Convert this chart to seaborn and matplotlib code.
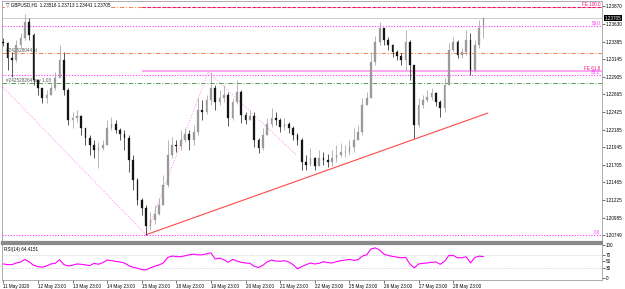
import numpy as np
import pandas as pd
import matplotlib
matplotlib.use("Agg")
import matplotlib.pyplot as plt
import matplotlib.transforms as mtrans
import seaborn as sns

sns.set_theme(style="white")
plt.rcParams['font.family'] = ['Liberation Sans', 'DejaVu Sans']

# ---------------- data ----------------
title_text = "\u25bd GBPUSD,H1  1.23516 1.23713 1.23441 1.23705"
first_open = 1.2338
closes = [1.2337, 1.2316, 1.2313, 1.2334, 1.2343, 1.2365, 1.2347, 1.2286, 1.2275, 1.2262,
          1.2266, 1.2275, 1.2289, 1.2313, 1.2272, 1.2232, 1.2234, 1.2237, 1.2221, 1.2207,
          1.2197, 1.2191, 1.2193, 1.2197, 1.2221, 1.2226, 1.2218, 1.2212, 1.2207, 1.2177,
          1.2150, 1.2122, 1.2111, 1.2087, 1.2095, 1.2103, 1.2116, 1.2143, 1.2184, 1.2197,
          1.2196, 1.2204, 1.2212, 1.2204, 1.2215, 1.2245, 1.2242, 1.2259, 1.2275, 1.2256,
          1.2262, 1.2266, 1.2234, 1.2256, 1.2270, 1.2238, 1.2232, 1.2237, 1.2204, 1.2193,
          1.2211, 1.2226, 1.2234, 1.2232, 1.2222, 1.2226, 1.2221, 1.2211, 1.2204, 1.2174,
          1.2170, 1.2180, 1.2169, 1.2180, 1.2177, 1.2174, 1.2180, 1.2184, 1.2188, 1.2188,
          1.2195, 1.2204, 1.2215, 1.2252, 1.2262, 1.2311, 1.2338, 1.2357, 1.2341, 1.2334,
          1.2324, 1.2319, 1.2313, 1.2338, 1.2307, 1.2225, 1.2252, 1.2259, 1.2263, 1.2268,
          1.2256, 1.2248, 1.2279, 1.2327, 1.2338, 1.2320, 1.2324, 1.2341, 1.2300, 1.2334,
          1.2357, 1.23705]
highs = [1.2343, 1.2338, 1.2324, 1.2341, 1.2350, 1.2376, 1.2371, 1.2350, 1.2286, 1.2275,
         1.2272, 1.2281, 1.2297, 1.2334, 1.2324, 1.2275, 1.2242, 1.2245, 1.2238, 1.2221,
         1.2211, 1.2204, 1.2202, 1.2204, 1.2232, 1.2236, 1.2232, 1.2221, 1.2218, 1.2211,
         1.2184, 1.2152, 1.2125, 1.2116, 1.2106, 1.2116, 1.2125, 1.2156, 1.2204, 1.2208,
         1.2204, 1.2218, 1.2221, 1.2218, 1.2225, 1.2262, 1.2259, 1.2266, 1.2297, 1.2279,
         1.2272, 1.2279, 1.2270, 1.2262, 1.2286, 1.2272, 1.2242, 1.2245, 1.2242, 1.2207,
         1.2221, 1.2234, 1.2248, 1.2242, 1.2234, 1.2234, 1.2229, 1.2223, 1.2214, 1.2207,
         1.2184, 1.2193, 1.2181, 1.2191, 1.2188, 1.2185, 1.2191, 1.2197, 1.2200, 1.2197,
         1.2204, 1.2221, 1.2225, 1.2262, 1.2270, 1.2324, 1.2346, 1.2365, 1.2357, 1.2345,
         1.2335, 1.2327, 1.2323, 1.2354, 1.2341, 1.2307, 1.2262, 1.2266, 1.2272, 1.2275,
         1.2270, 1.2259, 1.2289, 1.2337, 1.2345, 1.2341, 1.2330, 1.2354, 1.2350, 1.2341,
         1.2368, 1.23713]
lows = [1.2332, 1.2300, 1.2290, 1.2311, 1.2330, 1.2341, 1.2341, 1.2279, 1.2266, 1.2255,
        1.2255, 1.2266, 1.2272, 1.2289, 1.2266, 1.2225, 1.2221, 1.2229, 1.2211, 1.2197,
        1.2184, 1.2180, 1.2166, 1.2191, 1.2197, 1.2218, 1.2214, 1.2204, 1.2191, 1.2160,
        1.2136, 1.2116, 1.2102, 1.2075, 1.2081, 1.2090, 1.2102, 1.2116, 1.2140, 1.2180,
        1.2188, 1.2191, 1.2202, 1.2191, 1.2197, 1.2211, 1.2232, 1.2240, 1.2252, 1.2245,
        1.2252, 1.2256, 1.2223, 1.2232, 1.2254, 1.2228, 1.2226, 1.2232, 1.2195, 1.2187,
        1.2191, 1.2211, 1.2222, 1.2225, 1.2215, 1.2218, 1.2214, 1.2204, 1.2197, 1.2163,
        1.2163, 1.2169, 1.2163, 1.2169, 1.2170, 1.2167, 1.2169, 1.2174, 1.2181, 1.2181,
        1.2184, 1.2188, 1.2204, 1.2211, 1.2252, 1.2262, 1.2307, 1.2334, 1.2334, 1.2327,
        1.2317, 1.2313, 1.2307, 1.2300, 1.2286, 1.2207, 1.2222, 1.2248, 1.2256, 1.2259,
        1.2251, 1.2236, 1.2242, 1.2279, 1.2324, 1.2316, 1.2316, 1.2320, 1.2293, 1.2297,
        1.2330, 1.2344]
rsi_values = [42, 40, 40, 45, 48, 56, 48, 38, 34, 32,
              36, 42, 44, 55, 40, 36, 38, 42, 41, 39,
              37, 44, 41, 46, 54, 52, 50, 48, 45, 37,
              32, 29, 25, 24, 30, 35, 39, 45, 62, 66,
              65, 64, 67, 70, 72, 70, 70, 73, 76, 57,
              60, 55, 47, 56, 51, 47, 45, 44, 35, 31,
              38, 48, 54, 51, 50, 52, 48, 40, 27, 34,
              40, 45, 42, 44, 49, 46, 45, 49, 52, 54,
              56, 53, 55, 66, 70, 88, 91, 85, 72, 68,
              65, 63, 61, 62, 42, 30, 42, 44, 45, 47,
              48, 41, 50, 68, 68, 61, 61, 64, 45, 62,
              66, 64.4151]
rsi_label = "RSI(14) 64.4151"
date_labels = ["11 May 2020", "12 May 23:00", "13 May 23:00", "14 May 23:00", "15 May 23:00",
               "18 May 23:00", "19 May 23:00", "20 May 23:00", "21 May 23:00", "22 May 23:00",
               "25 May 23:00", "26 May 23:00", "27 May 23:00", "28 May 23:00"]
price_ticks = [1.23870, 1.23630, 1.23385, 1.23145, 1.22905, 1.22665, 1.22425,
               1.22185, 1.21945, 1.21705, 1.21465, 1.21225, 1.20985, 1.20749]
price_tick_labels = ["1.23870", "1.23630", "1.23385", "1.23145", "1.22905", "1.22665", "1.22425",
                     "1.22185", "1.21945", "1.21705", "1.21465", "1.21225", "1.20985", "1.20749"]
rsi_ticks = [100, 70, 50, 30, 0]
last_price = 1.23705
last_price_label = "1.23705"

fib_names = ["0.0", "38.2", "50.0"]
fib_prices = [1.2074, 1.22925, 1.2360]
fe_names = ["FE 61.8", "FE 100.0"]
fe_prices = [1.22983, 1.23852]
fe_start_bar = 32
tp_price = 1.23852
sl_price = 1.23225
sl_label = "#242528044 sl"
buy_price = 1.22816
buy_label = "#242528264 buy 1.03"
trend_bars = [33, 112]
trend_prices = [1.2075, 1.2241]
zig_bars = [-0.5, 33, 47.4, 67.7]
zig_prices = [1.2279, 1.2075, 1.2297, 1.2184]

# ---------------- figure ----------------
W, H = 625, 289
fig = plt.figure(figsize=(W / 100, H / 100), dpi=100)
fig.patch.set_facecolor("white")
ax = fig.add_axes([2 / W, 1 - 242 / H, 600 / W, 241 / H])
axr = fig.add_axes([2 / W, 1 - 280 / H, 600 / W, 36 / H], sharex=ax)

FS = 3.3
df = pd.DataFrame({"bar": np.arange(len(closes)), "close": closes, "high": highs, "low": lows})
df["open"] = [first_open] + closes[:-1]
up = df["close"] >= df["open"]
up_col, dn_col = "#9a9a9a", "#141414"
cols = np.where(up, up_col, dn_col)

# candles
ax.vlines(df["bar"], df["low"], df["high"], colors=cols, lw=0.5, zorder=4)
body_lo = np.minimum(df["open"], df["close"])
body_h = np.maximum(np.abs(df["close"] - df["open"]), 0.00004)
ax.bar(df["bar"], body_h, bottom=body_lo, width=0.4, color=cols, edgecolor=cols, lw=0.2, zorder=5)

XMAX = 138.4
ax.set_xlim(-0.3, XMAX)
ax.set_ylim(1.20651, 1.23938)

# horizontal levels
dashdot = (0, (5, 2, 1, 2))
ax.axhline(tp_price, color="#f5793f", ls=dashdot, lw=0.65, zorder=2)
ax.axhline(sl_price, color="#f5793f", ls=dashdot, lw=0.65, zorder=2)
ax.axhline(buy_price, color="#3f9a3f", ls=dashdot, lw=0.65, zorder=2)
ax.axhline(last_price, color="#c4c4c4", lw=0.6, zorder=2)
for p in fib_prices:
    ax.axhline(p, color="#ff33ff", ls=(0, (1, 1.5)), lw=0.8, zorder=2)
ax.hlines(fe_prices[0], fe_start_bar, XMAX, color="#ff9ef0", lw=1.3, zorder=2)
ax.hlines(fe_prices[1], fe_start_bar, XMAX, color="#f0107e", ls=(0, (3, 1.5)), lw=0.8, zorder=3)

# trend & zigzag lines
sns.lineplot(x=trend_bars, y=trend_prices, ax=ax, color="#ff4848", lw=0.8, zorder=3)
sns.lineplot(x=zig_bars, y=zig_prices, ax=ax, color="#ff66ee", lw=0.6,
             linestyle=(0, (1, 2)), zorder=3, sort=False)

# level labels
tr = mtrans.blended_transform_factory(ax.transAxes, ax.transData)
for name, p in zip(fib_names, fib_prices):
    ax.text(0.997, p, name, transform=tr, ha="right", va="bottom", fontsize=FS, color="#ff33ff")
for name, p in zip(fe_names, fe_prices):
    ax.text(0.997, p, name, transform=tr, ha="right", va="bottom", fontsize=FS, color="#f0107e")
ax.text(0.006, sl_price, sl_label, transform=tr, ha="left", va="bottom", fontsize=FS, color="#555555")
ax.text(0.006, buy_price, buy_label, transform=tr, ha="left", va="bottom", fontsize=FS, color="#555555")
ax.text(0.006, 0.995, title_text, transform=ax.transAxes, ha="left", va="top", fontsize=FS, color="black",
        bbox=dict(facecolor="white", edgecolor="none", pad=0.3))

# price axis on right
ax.yaxis.tick_right()
ax.set_yticks(price_ticks)
ax.set_yticklabels(price_tick_labels)
ax.tick_params(axis="y", which="both", right=True, left=False, labelright=True, labelleft=False,
               length=2, width=0.4, pad=1, labelsize=FS, colors="black")
ax.tick_params(axis="x", bottom=False, labelbottom=False)
ax.text(1.004, last_price, last_price_label, transform=tr, ha="left", va="center", fontsize=FS,
        color="white", bbox=dict(facecolor="black", edgecolor="none", pad=0.5))

for s in ["top", "left", "right"]:
    ax.spines[s].set_color("#a0a0a0")
    ax.spines[s].set_linewidth(0.6)
ax.spines["bottom"].set_color("#8a8a8a")
ax.spines["bottom"].set_linewidth(1.6)
ax.grid(False)

# ---------------- RSI panel ----------------
rsi_df = pd.DataFrame({"bar": np.arange(len(rsi_values)), "rsi": rsi_values})
sns.lineplot(data=rsi_df, x="bar", y="rsi", ax=axr, color="#ff00ff", lw=0.8)
axr.set_ylim(-7, 103)
for lvl in (70, 30):
    axr.axhline(lvl, color="#bdbdbd", ls=(0, (1, 1.5)), lw=0.5, zorder=1)
axr.yaxis.tick_right()
axr.set_yticks(rsi_ticks)
axr.set_yticklabels([str(t) for t in rsi_ticks])
axr.tick_params(axis="y", right=True, left=False, labelright=True, labelleft=False,
                length=2, width=0.4, pad=1, labelsize=FS, colors="black")
axr.set_xticks(np.arange(len(date_labels)) * 8)
axr.set_xticklabels(date_labels)
axr.tick_params(axis="x", bottom=True, length=2, width=0.4, pad=1.2, labelsize=FS, colors="black")
for lbl in axr.get_xticklabels():
    lbl.set_horizontalalignment("left")
axr.set_xlabel("")
axr.set_ylabel("")
axr.text(0.004, 0.93, rsi_label, transform=axr.transAxes, ha="left", va="top", fontsize=FS, color="black")
for s in ["bottom", "left", "right"]:
    axr.spines[s].set_color("#a0a0a0")
    axr.spines[s].set_linewidth(0.6)
axr.spines["top"].set_color("#8a8a8a")
axr.spines["top"].set_linewidth(1.6)
axr.grid(False)
ax.set_xlim(-0.3, XMAX)

fig.savefig("out.png", dpi=100, facecolor="white")
